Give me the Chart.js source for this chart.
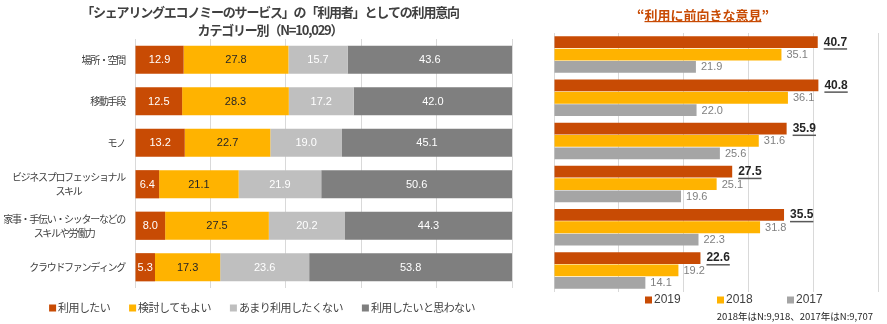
<!DOCTYPE html>
<html>
<head>
<meta charset="utf-8">
<script src="https://cdn.jsdelivr.net/npm/chart.js@4.4.1/dist/chart.umd.min.js"></script>
<style>
  html, body { margin: 0; padding: 0; background: #ffffff; }
  #wrap { position: relative; width: 887px; height: 324px; overflow: hidden; }
  #left { position: absolute; left: 0; top: 0; }
  #right { position: absolute; left: 540px; top: 0; }
</style>
</head>
<body>
<div id="wrap">
  <canvas id="left" width="540" height="324"></canvas>
  <canvas id="right" width="347" height="324"></canvas>
</div>
<script>
// ---------- DATA ----------
const leftTitle = ["「シェアリングエコノミーのサービス」の「利用者」としての利用意向", "カテゴリー別（N=10,029）"];
const categories = [
  ["場所・空間"],
  ["移動手段"],
  ["モノ"],
  ["ビジネスプロフェッショナル", "スキル"],
  ["家事・手伝い・シッターなどの", "スキルや労働力"],
  ["クラウドファンディング"]
];
const seriesNames = ["利用したい", "検討してもよい", "あまり利用したくない", "利用したいと思わない"];
const wantToUse   = [12.9, 12.5, 13.2, 6.4, 8.0, 5.3];
const mayConsider = [27.8, 28.3, 22.7, 21.1, 27.5, 17.3];
const notReally   = [15.7, 17.2, 19.0, 21.9, 20.2, 23.6];
const doNotWant   = [43.6, 42.0, 45.1, 50.6, 44.3, 53.8];
const leftTicks = [0, 20, 40, 60, 80, 100];

const rightTitle = "利用に前向きな意見";
const years = ["2019", "2018", "2017"];
const positive2019 = [40.7, 40.8, 35.9, 27.5, 35.5, 22.6];
const positive2018 = [35.1, 36.1, 31.6, 25.1, 31.8, 19.2];
const positive2017 = [21.9, 22.0, 25.6, 19.6, 22.3, 14.1];
const rightTicks = [0, 10, 20, 30, 40, 50];
const footnote = "2018年はN:9,918、2017年はN:9,707";

// ---------- STYLE ----------
const C_ORANGE = "#C84B04";
const C_YELLOW = "#FFB300";
const C_LGRAY = "#BFBFBF";
const C_DGRAY = "#7F7F7F";
const C_GRAY17 = "#A5A5A5";
const GRID = "#D9D9D9";
const JP = "'Noto Sans CJK JP', 'Noto Sans', sans-serif";
const NUM = "'Liberation Sans', Arial, sans-serif";

// ---------- LEFT CHART ----------
const leftColors = [C_ORANGE, C_YELLOW, C_LGRAY, C_DGRAY];
const leftLabelColors = ["#ffffff", "#262626", "#ffffff", "#ffffff"];
const leftSeries = [wantToUse, mayConsider, notReally, doNotWant];

const leftPlugin = {
  id: "leftDecor",
  afterDatasetsDraw(chart) {
    const ctx = chart.ctx;
    ctx.save();
    ctx.font = "11px " + NUM;
    ctx.textAlign = "center";
    ctx.textBaseline = "middle";
    chart.data.datasets.forEach((ds, i) => {
      const meta = chart.getDatasetMeta(i);
      ctx.fillStyle = leftLabelColors[i];
      meta.data.forEach((bar, j) => {
        const p = bar.getProps(["x", "y", "base"], true);
        ctx.fillText(ds.data[j].toFixed(1), (p.x + p.base) / 2, p.y + 0.5);
      });
    });
    ctx.restore();
  },
  afterDraw(chart) {
    const ctx = chart.ctx;
    const ca = chart.chartArea;
    const ys = chart.scales.y;
    ctx.save();
    // title
    ctx.fillStyle = "#404040";
    ctx.font = "bold 13px " + JP;
    ctx.textAlign = "center";
    ctx.textBaseline = "middle";
    try { ctx.letterSpacing = "-1.2px"; } catch (e) {}
    ctx.fillText(leftTitle[0], 270, 12.5);
    ctx.fillText(leftTitle[1], 270, 30);
    // category labels
    ctx.font = "10px " + JP;
    try { ctx.letterSpacing = "-1.3px"; } catch (e) {}
    ctx.fillStyle = "#404040";
    categories.forEach((lines, i) => {
      const yc = ys.getPixelForValue(i);
      let maxW = 0;
      lines.forEach(l => { maxW = Math.max(maxW, ctx.measureText(l).width); });
      const cx = ca.left - 10 - maxW / 2;
      const lh = 14;
      lines.forEach((l, k) => {
        ctx.fillText(l, cx, yc + (k - (lines.length - 1) / 2) * lh);
      });
    });
    // legend
    try { ctx.letterSpacing = "-0.6px"; } catch (e) {}
    ctx.font = "11px " + JP;
    const box = 7, gapBox = 2, gapItem = 19;
    const widths = seriesNames.map(n => box + gapBox + ctx.measureText(n).width);
    const total = widths.reduce((a, b) => a + b, 0) + gapItem * (seriesNames.length - 1);
    let x = 262 - total / 2;
    const ly = 308;
    ctx.textAlign = "left";
    seriesNames.forEach((n, i) => {
      ctx.fillStyle = leftColors[i];
      ctx.fillRect(x, ly - box / 2, box, box);
      ctx.fillStyle = "#404040";
      ctx.fillText(n, x + box + gapBox, ly);
      x += widths[i] + gapItem;
    });
    ctx.restore();
  }
};

new Chart(document.getElementById("left"), {
  type: "bar",
  data: {
    labels: categories,
    datasets: seriesNames.map((n, i) => ({
      label: n,
      data: leftSeries[i],
      backgroundColor: leftColors[i],
      borderWidth: 0,
      barPercentage: 0.68,
      categoryPercentage: 1.0
    }))
  },
  options: {
    indexAxis: "y",
    responsive: false,
    devicePixelRatio: 1,
    animation: false,
    events: [],
    layout: { padding: { top: 39, bottom: 36, left: 0, right: 28 } },
    plugins: { legend: { display: false }, title: { display: false }, tooltip: { enabled: false } },
    scales: {
      x: {
        stacked: true, min: 0, max: 100,
        afterBuildTicks: (s) => { s.ticks = leftTicks.map(v => ({ value: v })); },
        ticks: { display: false },
        grid: { color: GRID, lineWidth: 1, drawTicks: false },
        border: { display: false }
      },
      y: {
        stacked: true,
        ticks: { display: false },
        grid: { display: false, drawTicks: false },
        border: { display: false },
        afterFit: (s) => { s.width = 135; }
      }
    }
  },
  plugins: [leftPlugin]
});

// ---------- RIGHT CHART ----------
const rightColors = [C_ORANGE, C_YELLOW, C_GRAY17];
const rightSeries = [positive2019, positive2018, positive2017];

const rightPlugin = {
  id: "rightDecor",
  afterDatasetsDraw(chart) {
    const ctx = chart.ctx;
    ctx.save();
    ctx.textBaseline = "middle";
    ctx.textAlign = "left";
    chart.data.datasets.forEach((ds, i) => {
      const meta = chart.getDatasetMeta(i);
      meta.data.forEach((bar, j) => {
        const p = bar.getProps(["x", "y"], true);
        const t = ds.data[j].toFixed(1);
        if (i === 0) {
          ctx.font = "bold 12px " + NUM;
          ctx.fillStyle = "#262626";
          const tx = p.x + 6;
          ctx.fillText(t, tx, p.y);
          const w = ctx.measureText(t).width;
          ctx.fillStyle = "#595959";
          ctx.fillRect(tx, p.y + 6, w, 1.5);
        } else {
          ctx.font = "11px " + NUM;
          ctx.fillStyle = "#808080";
          ctx.fillText(t, p.x + 5, p.y + 0.5);
        }
      });
    });
    ctx.restore();
  },
  afterDraw(chart) {
    const ctx = chart.ctx;
    ctx.save();
    // title
    ctx.font = "bold 13px " + JP;
    ctx.textBaseline = "middle";
    ctx.textAlign = "left";
    ctx.fillStyle = C_ORANGE;
    const qOpen = "“", qClose = "”";
    const wO = ctx.measureText(qOpen).width;
    const wT = ctx.measureText(rightTitle).width;
    const wC = ctx.measureText(qClose).width;
    let x0 = 163 - (wO + wT + wC) / 2;
    ctx.fillText(qOpen, x0, 15);
    ctx.fillText(rightTitle, x0 + wO, 15);
    ctx.fillRect(x0 + wO, 21, wT, 1.2);
    ctx.fillText(qClose, x0 + wO + wT, 15);
    // legend
    ctx.font = "12px " + NUM;
    const box = 7, gapBox = 2;
    const starts = [105, 177, 247];
    years.forEach((yname, i) => {
      ctx.fillStyle = rightColors[i];
      ctx.fillRect(starts[i], 300 - box / 2, box, box);
      ctx.fillStyle = "#404040";
      ctx.fillText(yname, starts[i] + box + gapBox, 300);
    });
    // footnote
    ctx.font = "9.5px " + JP;
    ctx.textAlign = "right";
    ctx.fillStyle = "#262626";
    ctx.fillText(footnote, 333, 316);
    ctx.restore();
  }
};

new Chart(document.getElementById("right"), {
  type: "bar",
  data: {
    labels: categories.map(c => c.join("")),
    datasets: years.map((yname, i) => ({
      label: yname,
      data: rightSeries[i],
      backgroundColor: rightColors[i],
      borderWidth: 0,
      barPercentage: 0.95,
      categoryPercentage: 0.86
    }))
  },
  options: {
    indexAxis: "y",
    responsive: false,
    devicePixelRatio: 1,
    animation: false,
    events: [],
    layout: { padding: { top: 33, bottom: 32, left: 14, right: 9 } },
    plugins: { legend: { display: false }, title: { display: false }, tooltip: { enabled: false } },
    scales: {
      x: {
        min: 0, max: 50,
        afterBuildTicks: (s) => { s.ticks = rightTicks.map(v => ({ value: v })); },
        ticks: { display: false },
        grid: { color: GRID, lineWidth: 1, drawTicks: false },
        border: { display: false }
      },
      y: {
        display: false
      }
    }
  },
  plugins: [rightPlugin]
});
</script>
</body>
</html>
